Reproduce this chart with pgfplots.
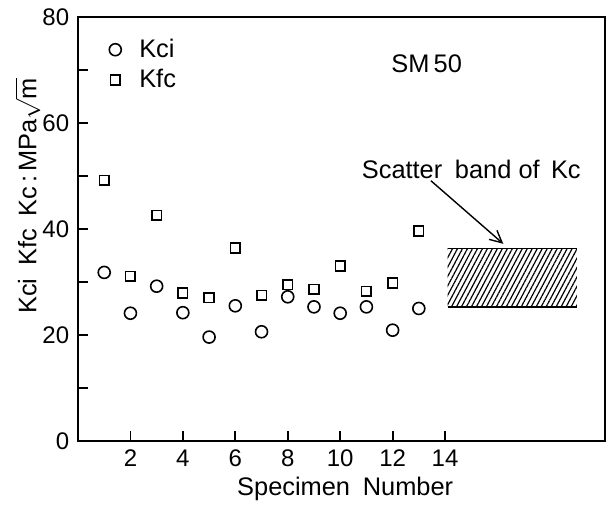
\documentclass[border=0pt]{standalone}
\usepackage{pgfplots}
\pgfplotsset{compat=1.18}
\usepackage{fontspec}
\setmainfont{Liberation Sans}
\usetikzlibrary{patterns.meta, arrows.meta}

% specimen, Kci
\pgfplotstableread{
x y
1 31.8
2 24.1
3 29.2
4 24.2
5 19.6
6 25.5
7 20.6
8 27.2
9 25.3
10 24.1
11 25.3
12 20.9
13 25.0
}\kci
% specimen, Kfc
\pgfplotstableread{
x y
1 49.2
2 31.1
3 42.6
4 27.9
5 27.0
6 36.4
7 27.5
8 29.5
9 28.6
10 33.0
11 28.2
12 29.8
13 39.6
}\kfc

\begin{document}
\fontsize{12.7}{15}\selectfont
\begin{tikzpicture}
\begin{axis}[
    name=main,
    scale only axis,
    width=263.5pt, height=212pt,
    xmin=0, xmax=20.1,
    ymin=0, ymax=80,
    xtick={2,4,...,14},
    ytick={0,10,...,80},
    yticklabels={0,,20,,40,,60,,80},
    tick align=inside,
    xtick pos=bottom, ytick pos=left,
    major tick length=5pt,
    axis line style={line width=1pt},
    every tick/.style={black, line width=0.9pt},
    /pgf/number format/assume math mode=true,
    ticklabel style={font=\fontsize{12}{14}\selectfont},
    xlabel={Specimen\enspace Number},
    ylabel={Kci\enspace Kfc\enspace Kc\,:\,MPa$\sqrt{\mbox{m}}$},
    ylabel style={at={(rel axis cs:0,0.578)}, anchor=center, yshift=25pt, inner sep=0.5pt},
    xlabel style={at={(rel axis cs:0.507,0)}, anchor=center, yshift=-24pt},
    legend style={at={(axis cs:0.95,77.5)}, anchor=north west, draw=none, fill=none,
        font=\fontsize{12.7}{15}\selectfont, row sep=0pt,
        /tikz/every odd column/.append style={column sep=7pt},
        legend cell align=left},
]
\addplot[only marks, mark=o, mark size=3pt, line width=0.8pt] table {\kci};
\addlegendentry{Kci}
\addplot[only marks, mark=square, mark size=2.4pt, line width=0.8pt] table {\kfc};
\addlegendentry{Kfc}

% scatter band of Kc
\addplot[draw=none, pattern={Lines[angle=62, distance=2.2pt, line width=0.6pt]}, forget plot]
    coordinates {(14.1,25.2) (19.03,25.2) (19.03,36.3) (14.1,36.3)} -- cycle;
\addplot[line width=0.9pt, forget plot] coordinates {(14.1,36.3) (19.03,36.3)};
\addplot[line width=0.9pt, forget plot] coordinates {(14.1,25.2) (19.03,25.2)};

\node at (axis cs:13.3,71.1) {SM\,50};
\node at (axis cs:15.0,51.3) {Scatter\enspace band of\, Kc};
\draw[line width=0.7pt, -{Straight Barb[length=6pt, width=6pt]}] (axis cs:13.46,49.1) -- (axis cs:16.22,37.2);
\end{axis}
\useasboundingbox ([xshift=-39pt, yshift=-28.5pt]main.south west) rectangle ([xshift=1pt, yshift=8pt]main.north east);
\end{tikzpicture}
\end{document}
